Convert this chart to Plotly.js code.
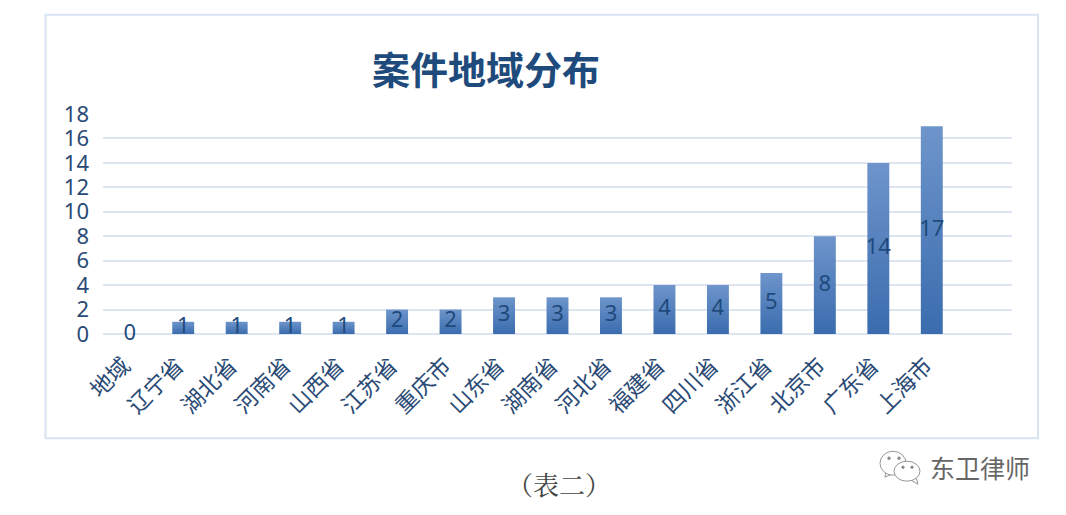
<!DOCTYPE html>
<html><head><meta charset="utf-8">
<script src="https://cdn.plot.ly/plotly-3.0.1.min.js"></script>
<style>html,body{margin:0;padding:0;background:#fff;overflow:hidden}#c{width:1066px;height:515px}</style>
</head><body><div id="c"></div>
<script>
const categories=["地域","辽宁省","湖北省","河南省","山西省","江苏省","重庆市","山东省","湖南省","河北省","福建省","四川省","浙江省","北京市","广东省","上海市"];
const values=[0,1,1,1,1,2,2,3,3,3,4,4,5,8,14,17];
const yTicks=[0,2,4,6,8,10,12,14,16,18];
const W=1066,H=515,L=103,R=1012,T=114,B=334.5;
const CJK='"Noto Sans CJK SC","Microsoft YaHei",sans-serif';
const LATIN='"Noto Sans","Open Sans",sans-serif';
const ink='#2a4a75';
const px=x=>(x-L)/(R-L), py=y=>(B-y)/(B-T);
const grey='#8a8a8a';
function circle(cx,cy,rx,ry,fill,line){return {type:'circle',xref:'paper',yref:'paper',x0:px(cx-rx),x1:px(cx+rx),y0:py(cy+ry),y1:py(cy-ry),fillcolor:fill,line:{color:line,width:0.9},layer:'above'};}
function path(pts,fill,line){return {type:'path',xref:'paper',yref:'paper',path:pts.map((p,i)=>(i?'L':'M')+px(p[0])+' '+py(p[1])).join(' ')+' Z',fillcolor:fill,line:{color:line,width:0.9},layer:'above'};}
const shapes=[
 {type:'rect',xref:'paper',yref:'paper',x0:px(45.5),x1:px(1038),y0:py(439),y1:py(14.5),line:{color:'#d9e4f2',width:2},fillcolor:'rgba(0,0,0,0)',layer:'below'},
 path([[886,472],[885,478],[892,475]],'#fff',grey),
 circle(893,464,13,12,'#fff',grey),
 circle(889,459,1.3,1.3,grey,grey),
 circle(899,459,1.3,1.3,grey,grey),
 path([[911,481],[918,485],[916,478]],'#fff',grey),
 circle(907,472,13,10,'#fff',grey),
 circle(903,468,1.2,1.2,grey,grey),
 circle(912,468,1.2,1.2,grey,grey)
];
const annotations=[
 {xref:'paper',yref:'paper',x:px(485.5),y:py(67),text:'<b>案件地域分布</b>',showarrow:false,font:{family:CJK,size:38,color:'#1f4a7c'},xanchor:'center',yanchor:'middle'},
 {xref:'paper',yref:'paper',x:px(559),y:py(484),text:'（表二）',showarrow:false,font:{family:'"Noto Serif CJK SC","Noto Sans CJK SC",serif',size:26,color:'#444'},xanchor:'center',yanchor:'middle'},
 {xref:'paper',yref:'paper',x:px(980),y:py(468),text:'东卫律师',showarrow:false,font:{family:CJK,size:25,color:'#666'},xanchor:'center',yanchor:'middle'}
];
const data=[
 {type:'bar',x:categories,y:values,width:0.41,marker:{color:'#4f7dbd',line:{width:0}},hoverinfo:'skip'},
 {type:'scatter',mode:'text',x:categories,y:values.map(v=>v/2),text:values.map(String),textposition:'middle center',cliponaxis:false,textfont:{family:LATIN,size:22,color:'#1f4a7c'},hoverinfo:'skip'}
];
const layout={width:W,height:H,margin:{l:L,r:W-R,t:T,b:H-B,pad:0},paper_bgcolor:'#fff',plot_bgcolor:'#fff',showlegend:false,
 xaxis:{type:'category',range:[-0.5,16.5],tickangle:-45,showgrid:false,zeroline:false,showline:false,ticks:'',ticklen:0,automargin:false,ticklabelstandoff:13,tickfont:{family:CJK,size:22.5,color:ink}},
 yaxis:{range:[0,18],tickvals:yTicks,ticktext:yTicks.map(String),showgrid:true,gridcolor:'#dde5f0',gridwidth:2,zeroline:true,zerolinecolor:'#dde5f0',zerolinewidth:2,showline:false,ticks:'',automargin:false,ticklabelstandoff:13,tickfont:{family:LATIN,size:22,color:ink}},
 shapes,annotations};
Plotly.newPlot('c',data,layout,{displayModeBar:false,staticPlot:true}).then(gd=>{
 const svg=gd.querySelector('svg.main-svg');
 const ns='http://www.w3.org/2000/svg';
 let defs=svg.querySelector('defs');
 const g=document.createElementNS(ns,'linearGradient');
 g.setAttribute('id','barGrad');g.setAttribute('x1','0');g.setAttribute('y1','0');g.setAttribute('x2','0');g.setAttribute('y2','1');
 [['0','#6e95cb'],['1','#3a6cae']].forEach(s=>{const e=document.createElementNS(ns,'stop');e.setAttribute('offset',s[0]);e.setAttribute('stop-color',s[1]);g.appendChild(e);});
 defs.appendChild(g);
 gd.querySelectorAll('.bars .point path').forEach(p=>{p.style.fill='url(#barGrad)';});
 const xl=gd.querySelector('.xaxislayer-above');
 if(xl) xl.setAttribute('transform','translate(-6,0)');
});
</script></body></html>
